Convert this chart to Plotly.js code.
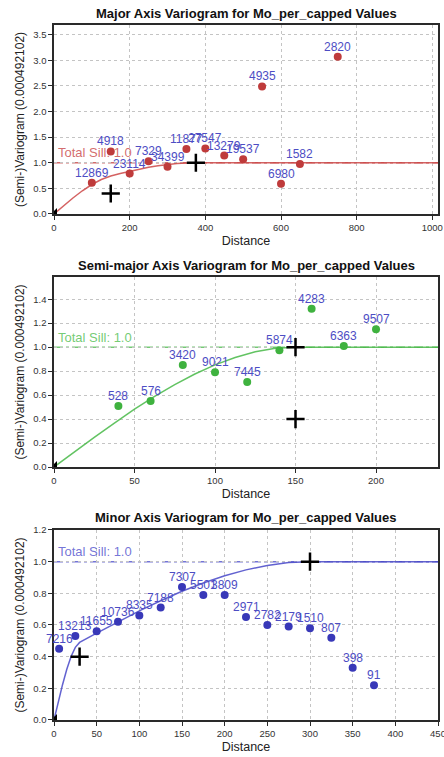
<!DOCTYPE html>
<html>
<head>
<meta charset="utf-8">
<script src="https://cdn.plot.ly/plotly-3.0.1.min.js"></script>
<style>
  html, body { margin: 0; padding: 0; background: #ffffff; }
  #chart { width: 444px; height: 757px; }
</style>
</head>
<body>
<div id="chart"></div>
<script>
// ---- Experimental variogram points (lag distance, semi-variance, number of pairs) ----
const majorLag   = [100, 150, 200, 250, 300, 350, 400, 450, 500, 550, 600, 650, 750];
const majorGamma = [0.61, 1.22, 0.79, 1.03, 0.92, 1.27, 1.28, 1.14, 1.07, 2.49, 0.59, 0.975, 3.07];
const majorPairs = ['12869', '4918', '23114', '7329', '34399', '11877', '27547', '13279', '19537', '4935', '6980', '1582', '2820'];

const semiLag   = [40, 60, 80, 100, 120, 140, 160, 180, 200];
const semiGamma = [0.51, 0.55, 0.85, 0.79, 0.71, 0.975, 1.32, 1.01, 1.15];
const semiPairs = ['528', '576', '3420', '9021', '7445', '5874', '4283', '6363', '9507'];

const minorLag   = [6, 25, 50, 75, 100, 125, 150, 175, 200, 225, 250, 275, 300, 325, 350, 375];
const minorGamma = [0.45, 0.53, 0.56, 0.62, 0.66, 0.71, 0.84, 0.79, 0.79, 0.65, 0.60, 0.59, 0.58, 0.52, 0.33, 0.22];
const minorPairs = ['7216', '13213', '11655', '10736', '8335', '7188', '7307', '5501', '3809', '2971', '2782', '2179', '1510', '807', '398', '91'];

// ---- Fitted model curves ----
const majorModelLag   = [0, 25, 50, 75, 100, 125, 150, 175, 200, 225, 250, 275, 300, 325, 350, 375];
const majorModelGamma = [0, 0.159, 0.312, 0.453, 0.575, 0.673, 0.741, 0.790, 0.835, 0.875, 0.911, 0.942, 0.966, 0.985, 0.996, 1.0];

const semiModelLag   = [0, 12.5, 25, 37.5, 50, 62.5, 75, 87.5, 100, 112.5, 125, 137.5, 150];
const semiModelGamma = [0, 0.125, 0.248, 0.367, 0.482, 0.589, 0.688, 0.776, 0.852, 0.914, 0.961, 0.990, 1.0];

const minorModelLag   = [0, 5, 10, 15, 20, 25, 30, 50, 75, 100, 125, 150, 175, 200, 225, 250, 275, 300];
const minorModelGamma = [0, 0.114, 0.223, 0.320, 0.401, 0.459, 0.490, 0.549, 0.620, 0.689, 0.753, 0.813, 0.865, 0.911, 0.948, 0.976, 0.994, 1.0];

// ---- Structure ranges / contributions (cross markers) ----
const majorRangeX = [150, 375], majorRangeY = [0.4, 1.0];
const semiRangeX  = [150, 150], semiRangeY  = [0.4, 1.0];
const minorRangeX = [30, 300],  minorRangeY = [0.4, 1.0];

const totalSill = [1.0, 1.0, 1.0];
const origin = [0];

// ---- Axis limits ----
const xLimits = [[0, 1015], [0, 238.5], [0, 450]];
const yLimits = [[0, 3.69], [0, 1.585], [0, 1.2]];
const xSteps = [200, 50, 50];
const ySteps = [0.5, 0.2, 0.2];

const titles = [
  'Major Axis Variogram for Mo_per_capped Values',
  'Semi-major Axis Variogram for Mo_per_capped Values',
  'Minor Axis Variogram for Mo_per_capped Values'
];

const FONT = '"Liberation Sans", Arial, Helvetica, sans-serif';
const pointColors = ['#bf3b3b', '#3fb23f', '#3838b8'];
const lineColors  = ['rgba(205,70,70,0.85)', 'rgba(70,185,70,0.85)', 'rgba(70,70,200,0.85)'];
const sillColors  = ['rgba(200,70,70,0.8)', 'rgba(80,190,80,0.8)', 'rgba(80,80,205,0.8)'];
const labelColor = '#4d4dc4';

const panels = [
  {lag: majorLag, gamma: majorGamma, pairs: majorPairs, mLag: majorModelLag, mGamma: majorModelGamma, rx: majorRangeX, ry: majorRangeY},
  {lag: semiLag,  gamma: semiGamma,  pairs: semiPairs,  mLag: semiModelLag,  mGamma: semiModelGamma,  rx: semiRangeX,  ry: semiRangeY},
  {lag: minorLag, gamma: minorGamma, pairs: minorPairs, mLag: minorModelLag, mGamma: minorModelGamma, rx: minorRangeX, ry: minorRangeY}
];

// vertical domains of the three stacked plots (top to bottom)
const domains = [[0.7281, 1.0], [0.3640, 0.6374], [0.0, 0.2734]];

const traces = [];
const shapes = [];
const annotations = [];
const layout = {
  width: 444,
  height: 757,
  margin: {l: 54, r: 6.4, t: 25, b: 37},
  paper_bgcolor: '#ffffff',
  plot_bgcolor: '#ffffff',
  showlegend: false,
  font: {family: FONT, color: '#222'}
};

panels.forEach((p, i) => {
  const n = i === 0 ? '' : String(i + 1);
  const xa = 'x' + n, ya = 'y' + n;

  // model curve, held at the sill out to the right edge
  traces.push({
    x: p.mLag.concat([xLimits[i][1]]),
    y: p.mGamma.concat([totalSill[i]]),
    xaxis: xa, yaxis: ya,
    mode: 'lines', type: 'scatter',
    line: {color: lineColors[i], width: 1.5},
    hoverinfo: 'skip'
  });

  // experimental points
  traces.push({
    x: p.lag, y: p.gamma,
    xaxis: xa, yaxis: ya,
    mode: 'markers', type: 'scatter',
    marker: {color: pointColors[i], size: 8},
    cliponaxis: false
  });

  // pair-count labels just above each point
  p.lag.forEach((lx, k) => {
    annotations.push({
      xref: xa, yref: ya,
      x: lx, y: p.gamma[k],
      xanchor: 'center', yanchor: 'middle', yshift: 10,
      showarrow: false,
      text: p.pairs[k],
      font: {family: FONT, size: 12, color: labelColor}
    });
  });

  // structure range markers
  traces.push({
    x: p.rx, y: p.ry,
    xaxis: xa, yaxis: ya,
    mode: 'markers', type: 'scatter',
    marker: {symbol: 'cross-thin', size: 13, line: {color: '#000', width: 2.5}}
  });

  // origin marker
  traces.push({
    x: origin, y: origin,
    xaxis: xa, yaxis: ya,
    mode: 'markers', type: 'scatter',
    marker: {symbol: 'triangle-se', size: 10, color: '#000'},
    cliponaxis: true
  });

  layout['xaxis' + n] = {
    domain: [0, 1],
    anchor: ya,
    range: xLimits[i],
    dtick: xSteps[i], tick0: 0,
    ticklabeloverflow: 'allow',
    showline: true, mirror: true, linecolor: '#2a2a2a', linewidth: 1.6,
    ticks: 'outside', ticklen: 4, tickwidth: 1, tickcolor: '#2a2a2a',
    showgrid: true, gridcolor: '#c4c4c4', griddash: 'dot', gridwidth: 1,
    zeroline: false,
    tickfont: {family: FONT, size: 9.5, color: '#333'},
    title: {text: 'Distance', font: {family: FONT, size: 12.5, color: '#222'}, standoff: 4}
  };
  layout['yaxis' + n] = {
    domain: domains[i],
    anchor: xa,
    range: yLimits[i],
    dtick: ySteps[i], tick0: 0,
    tickformat: '.1f',
    showline: true, mirror: true, linecolor: '#2a2a2a', linewidth: 1.6,
    ticks: 'outside', ticklen: 4, tickwidth: 1, tickcolor: '#2a2a2a',
    showgrid: true, gridcolor: '#c4c4c4', griddash: 'dot', gridwidth: 1,
    zeroline: false,
    tickfont: {family: FONT, size: 9.5, color: '#333'},
    title: {text: '(Semi-)Variogram (0.000492102)', font: {family: FONT, size: 12, color: '#222'}, standoff: 6}
  };

  // total sill reference line
  shapes.push({
    type: 'line', layer: 'below',
    xref: xa + ' domain', yref: ya,
    x0: 0, x1: 1, y0: totalSill[i], y1: totalSill[i],
    line: {color: sillColors[i], width: 1.5, dash: 'dashdot'}
  });
  annotations.push({
    xref: xa + ' domain', yref: ya,
    x: 0, y: totalSill[i],
    xanchor: 'left', yanchor: 'middle',
    xshift: 2, yshift: 10,
    showarrow: false,
    text: 'Total Sill: ' + totalSill[i].toFixed(1),
    font: {family: FONT, size: 13, color: sillColors[i]}
  });

  // panel title
  annotations.push({
    xref: xa + ' domain', yref: 'paper',
    x: 0.5, y: domains[i][1],
    xanchor: 'center', yanchor: 'middle', yshift: 12,
    showarrow: false,
    text: '<b>' + titles[i] + '</b>',
    font: {family: FONT, size: 13, color: '#111'}
  });
});

layout.shapes = shapes;
layout.annotations = annotations;

Plotly.newPlot('chart', traces, layout, {staticPlot: true, displayModeBar: false});
</script>
</body>
</html>
